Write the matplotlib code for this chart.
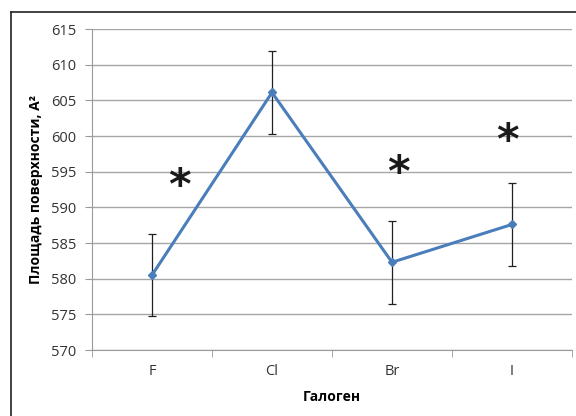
import matplotlib
matplotlib.use("Agg")
import matplotlib.pyplot as plt
from matplotlib.lines import Line2D

plt.rcParams['font.family'] = ['Open Sans', 'DejaVu Sans']

# data
halogens = ["F", "Cl", "Br", "I"]
area = [580.5, 606.1, 582.3, 587.6]
area_err = [5.8, 5.8, 5.8, 5.8]

# significance marks (x in category units, y in data units)
star_x = [0.23, 2.05, 2.96]
star_y = [592.9, 594.7, 599.1]

fig = plt.figure(figsize=(5.76, 4.16), dpi=100)
ax = fig.add_axes([92 / 576, 66 / 416, 480 / 576, 321 / 416])

x = list(range(len(halogens)))
ax.errorbar(x, area, yerr=area_err, fmt="none", ecolor="#202020",
            elinewidth=0.9, capsize=3, capthick=0.9, zorder=2)
ax.plot(x, area, color="#4A7EBB", lw=2.2, marker="D", ms=4.5,
        mec="#4A7EBB", mfc="#4A7EBB", zorder=3)

for sx, sy in zip(star_x, star_y):
    ax.text(sx, sy, "*", fontsize=31, fontweight="heavy", ha="center",
            va="center", color="#1a1a1a", family="DejaVu Sans")

ax.set_xlim(-0.5, 3.5)
ax.set_ylim(570, 615)
ax.set_yticks(range(570, 616, 5))
ax.set_xticks(x)
ax.set_xticklabels(halogens)
ax.set_xticks([-0.5, 0.5, 1.5, 2.5, 3.5], minor=True)
ax.tick_params(axis="x", which="major", length=0, pad=10, labelsize=10.5, labelcolor="#333333")
ax.tick_params(axis="x", which="minor", length=5, color="#999999", direction="out")
ax.tick_params(axis="y", length=5, color="#999999", labelsize=10.5, labelcolor="#333333", pad=6)

ax.grid(axis="y", color="#a6a6a6", lw=1)
ax.set_axisbelow(True)
for s in ["top", "right"]:
    ax.spines[s].set_visible(False)
ax.spines["left"].set_color("#999999")
ax.spines["bottom"].set_color("#999999")

ax.set_ylabel("Площадь поверхности, A²", fontsize=10, fontweight="bold", labelpad=6)
ax.set_xlabel("Галоген", fontsize=10, fontweight="bold", labelpad=8)

# outer frame of the chart area
fig.add_artist(Line2D([11 / 576, 11 / 576], [0, 1 - 12 / 416], color="#222222", lw=1.2))
fig.add_artist(Line2D([11 / 576, 1], [1 - 12 / 416, 1 - 12 / 416], color="#222222", lw=1.2))

fig.savefig("out.png", dpi=100)
